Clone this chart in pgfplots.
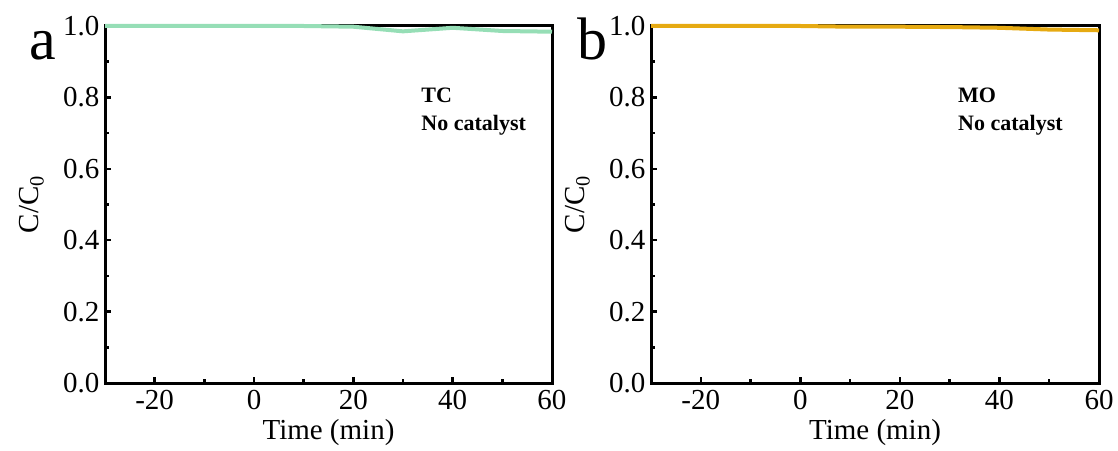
\documentclass[border=0pt]{standalone}
\usepackage{pgfplots}
\pgfplotsset{compat=1.18}
\usepackage{fontspec}
\setmainfont{Liberation Serif}
\definecolor{mint}{RGB}{150,222,182}
\definecolor{gold}{RGB}{230,170,18}
\pgfplotstableread{
t c
-30 1.000
-20 1.000
-10 1.000
0 1.000
10 1.000
20 0.998
30 0.985
40 0.995
50 0.986
60 0.984
}\tcdata
\pgfplotstableread{
t c
-30 1.000
-20 1.000
-10 1.000
0 1.000
10 0.998
20 0.998
30 0.997
40 0.995
50 0.990
60 0.988
}\modata
\pgfplotsset{
  panel/.style={
    scale only axis,
    width=447pt, height=357pt,
    xmin=-30, xmax=60, ymin=0, ymax=1,
    xtick={-20,0,20,40,60},
    minor xtick={-10,10,30,50},
    ytick={0,0.2,0.4,0.6,0.8,1.0},
    minor ytick={0.1,0.3,0.5,0.7,0.9},
    yticklabel style={/pgf/number format/fixed,/pgf/number format/fixed zerofill,/pgf/number format/precision=1},
    /pgf/number format/assume math mode=true,
    tick align=inside,
    xtick pos=bottom, ytick pos=left,
    major tick length=6pt, minor tick length=4pt,
    every tick/.style={line width=2.5pt, black},
    axis line style={line width=3pt},
    tick label style={font=\fontsize{29}{32}\selectfont},
    xticklabel style={yshift=-4pt},
    yticklabel style={xshift=-2pt},
    label style={font=\fontsize{29}{32}\selectfont},
    xlabel={Time (min)},
    ylabel={C/C$_{\mathrm{0}}$},
    xlabel style={at={(axis description cs:0.5,-0.14)}, anchor=center},
    ylabel style={at={(axis description cs:-0.164,0.5)}, anchor=center, rotate=0},
    clip=false,
  }
}
\begin{document}
\begin{tikzpicture}
\useasboundingbox (0,0) rectangle (1118pt,450pt);
\begin{axis}[panel, at={(105pt,67pt)}, anchor=south west]
\addplot[mint, line width=4pt, line join=round] table[x=t,y=c] {\tcdata};
\node[anchor=west, font=\fontsize{22}{28}\selectfont\bfseries, align=left] at (axis cs:33,0.76) {TC\\No catalyst};
\node[anchor=base, font=\fontsize{60}{60}\selectfont] at (axis description cs:-0.14,0.905) {a};
\end{axis}
\begin{axis}[panel, width=448pt, at={(651pt,67pt)}, anchor=south west]
\addplot[gold, line width=4pt, line join=round] table[x=t,y=c] {\modata};
\node[anchor=west, font=\fontsize{22}{28}\selectfont\bfseries, align=left] at (axis cs:31,0.76) {MO\\No catalyst};
\node[anchor=base, font=\fontsize{60}{60}\selectfont] at (axis description cs:-0.13,0.905) {b};
\end{axis}
\end{tikzpicture}
\end{document}
